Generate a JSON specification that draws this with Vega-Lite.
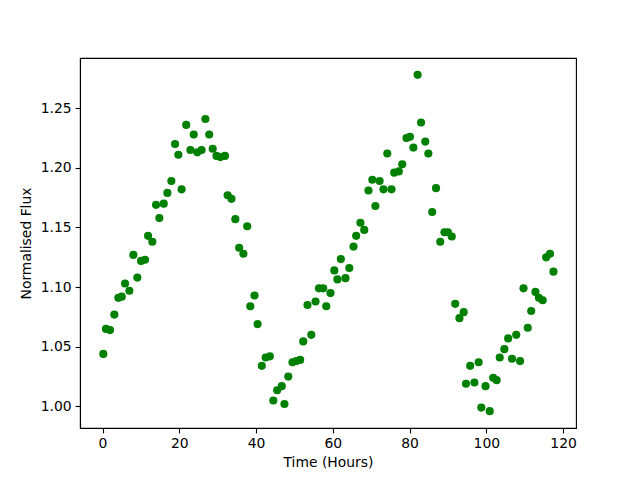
{
  "$schema": "https://vega.github.io/schema/vega-lite/v6.json",
  "autosize": "none",
  "width": 496,
  "height": 370,
  "padding": {"left": 80, "top": 58, "right": 64, "bottom": 52},
  "background": "white",
  "config": {
    "view": {"stroke": "black", "strokeWidth": 1.1},
    "axis": {
      "grid": false,
      "domainColor": "black",
      "domainWidth": 1.1,
      "tickColor": "black",
      "tickWidth": 1.1,
      "tickSize": 4.9,
      "labelPadding": 4,
      "labelFont": "DejaVu Sans",
      "labelFontSize": 13.9,
      "labelColor": "black",
      "titleFont": "DejaVu Sans",
      "titleFontSize": 13.9,
      "titleFontWeight": "normal",
      "titleColor": "black",
      "titlePadding": 5,
      "labelFlush": false,
      "labelOverlap": false
    },
    "axisY": {"titlePadding": 7}
  },
  "data": {
    "values": [
      {"t": 0.2, "flux": 1.044}, {"t": 0.9, "flux": 1.065}, {"t": 1.95, "flux": 1.064}, {"t": 3.07, "flux": 1.077},
      {"t": 4.12, "flux": 1.091}, {"t": 5.0, "flux": 1.092}, {"t": 5.86, "flux": 1.103}, {"t": 6.99, "flux": 1.097},
      {"t": 8.03, "flux": 1.127}, {"t": 9.07, "flux": 1.108}, {"t": 10.03, "flux": 1.122}, {"t": 11.07, "flux": 1.123},
      {"t": 11.86, "flux": 1.143}, {"t": 12.98, "flux": 1.138}, {"t": 13.94, "flux": 1.169}, {"t": 14.8, "flux": 1.158},
      {"t": 15.94, "flux": 1.17}, {"t": 16.9, "flux": 1.179}, {"t": 17.93, "flux": 1.189}, {"t": 18.9, "flux": 1.22},
      {"t": 19.75, "flux": 1.211}, {"t": 20.6, "flux": 1.182}, {"t": 21.8, "flux": 1.236}, {"t": 22.9, "flux": 1.215},
      {"t": 23.76, "flux": 1.228}, {"t": 24.7, "flux": 1.213}, {"t": 25.8, "flux": 1.215}, {"t": 26.8, "flux": 1.241},
      {"t": 27.8, "flux": 1.228}, {"t": 28.7, "flux": 1.216}, {"t": 29.7, "flux": 1.21}, {"t": 30.7, "flux": 1.209},
      {"t": 31.9, "flux": 1.21}, {"t": 32.6, "flux": 1.177}, {"t": 33.6, "flux": 1.174}, {"t": 34.6, "flux": 1.157},
      {"t": 35.6, "flux": 1.133}, {"t": 36.7, "flux": 1.128}, {"t": 37.7, "flux": 1.151}, {"t": 38.5, "flux": 1.084},
      {"t": 39.6, "flux": 1.093}, {"t": 40.4, "flux": 1.069}, {"t": 41.5, "flux": 1.034}, {"t": 42.5, "flux": 1.041},
      {"t": 43.6, "flux": 1.042}, {"t": 44.5, "flux": 1.005}, {"t": 45.5, "flux": 1.0135}, {"t": 46.7, "flux": 1.017},
      {"t": 47.4, "flux": 1.002}, {"t": 48.4, "flux": 1.025}, {"t": 49.5, "flux": 1.037}, {"t": 50.5, "flux": 1.038},
      {"t": 51.5, "flux": 1.039}, {"t": 52.3, "flux": 1.0545}, {"t": 53.4, "flux": 1.085}, {"t": 54.4, "flux": 1.06},
      {"t": 55.5, "flux": 1.088}, {"t": 56.4, "flux": 1.099}, {"t": 57.5, "flux": 1.099}, {"t": 58.3, "flux": 1.084},
      {"t": 59.4, "flux": 1.095}, {"t": 60.4, "flux": 1.114}, {"t": 61.2, "flux": 1.1065}, {"t": 62.1, "flux": 1.1235},
      {"t": 63.3, "flux": 1.1075}, {"t": 64.3, "flux": 1.116}, {"t": 65.4, "flux": 1.134}, {"t": 66.1, "flux": 1.143},
      {"t": 67.2, "flux": 1.154}, {"t": 68.2, "flux": 1.148}, {"t": 69.3, "flux": 1.181}, {"t": 70.3, "flux": 1.19},
      {"t": 71.1, "flux": 1.168}, {"t": 72.2, "flux": 1.189}, {"t": 73.2, "flux": 1.182}, {"t": 74.2, "flux": 1.212},
      {"t": 75.3, "flux": 1.182}, {"t": 76.0, "flux": 1.196}, {"t": 77.2, "flux": 1.197}, {"t": 78.1, "flux": 1.203},
      {"t": 79.2, "flux": 1.225}, {"t": 80.1, "flux": 1.226}, {"t": 81.0, "flux": 1.217}, {"t": 82.1, "flux": 1.278},
      {"t": 83.0, "flux": 1.238}, {"t": 84.1, "flux": 1.222}, {"t": 84.9, "flux": 1.212}, {"t": 85.9, "flux": 1.163},
      {"t": 86.9, "flux": 1.183}, {"t": 88.0, "flux": 1.138}, {"t": 89.1, "flux": 1.146}, {"t": 90.0, "flux": 1.146},
      {"t": 91.0, "flux": 1.1425}, {"t": 91.9, "flux": 1.086}, {"t": 93.0, "flux": 1.074}, {"t": 94.1, "flux": 1.079},
      {"t": 94.7, "flux": 1.019}, {"t": 95.8, "flux": 1.034}, {"t": 96.9, "flux": 1.02}, {"t": 98.0, "flux": 1.037},
      {"t": 98.7, "flux": 0.999}, {"t": 99.8, "flux": 1.017}, {"t": 100.9, "flux": 0.996}, {"t": 101.8, "flux": 1.024},
      {"t": 102.7, "flux": 1.022}, {"t": 103.5, "flux": 1.041}, {"t": 104.7, "flux": 1.048}, {"t": 105.7, "flux": 1.057},
      {"t": 106.7, "flux": 1.04}, {"t": 107.8, "flux": 1.06}, {"t": 108.8, "flux": 1.038}, {"t": 109.7, "flux": 1.099},
      {"t": 110.8, "flux": 1.066}, {"t": 111.7, "flux": 1.08}, {"t": 112.8, "flux": 1.096}, {"t": 113.7, "flux": 1.091},
      {"t": 114.7, "flux": 1.089}, {"t": 115.6, "flux": 1.125}, {"t": 116.6, "flux": 1.128}, {"t": 117.5, "flux": 1.113}
    ]
  },
  "mark": {"type": "point", "filled": true, "shape": "circle", "size": 66, "color": "#008000", "opacity": 1},
  "encoding": {
    "x": {
      "field": "t",
      "type": "quantitative",
      "title": "Time (Hours)",
      "scale": {"domain": [-5.875, 123.375], "nice": false, "zero": false},
      "axis": {"values": [0, 20, 40, 60, 80, 100, 120], "format": "d"}
    },
    "y": {
      "field": "flux",
      "type": "quantitative",
      "title": "Normalised Flux",
      "scale": {"domain": [0.9819, 1.2921], "nice": false, "zero": false},
      "axis": {"values": [1.0, 1.05, 1.1, 1.15, 1.2, 1.25], "format": ".2f"}
    }
  }
}
